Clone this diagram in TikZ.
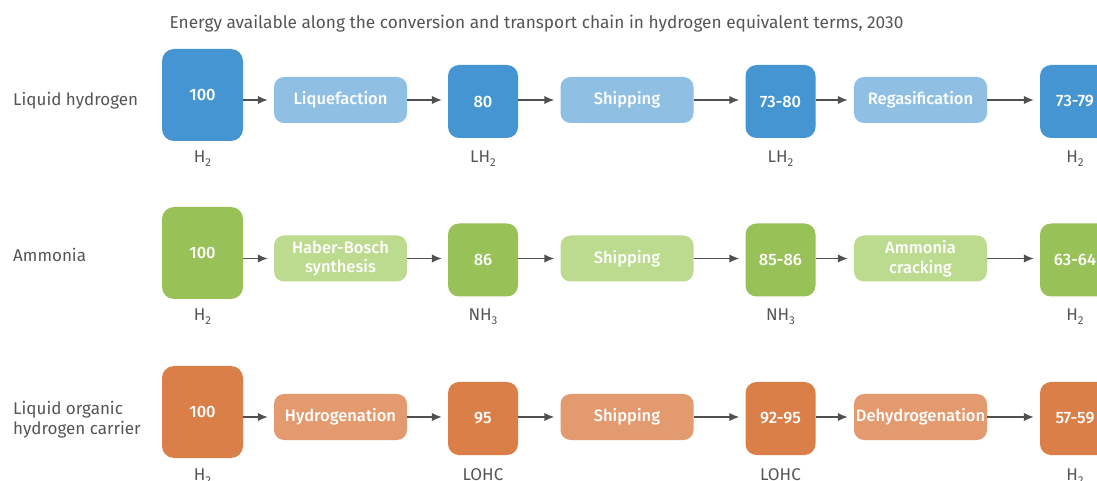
\documentclass[tikz,border=0pt]{standalone}
\usepackage{fontspec}
\setmainfont{Fira Sans}
\newfontfamily\medfont{Fira Sans Medium}
\usetikzlibrary{arrows.meta}
\definecolor{blueD}{HTML}{4495D1}
\definecolor{blueL}{HTML}{8FC0E4}
\definecolor{greenD}{HTML}{98C157}
\definecolor{greenL}{HTML}{BCDB8F}
\definecolor{orangeD}{HTML}{DB7F48}
\definecolor{orangeL}{HTML}{E39A6E}
\definecolor{txtgray}{HTML}{555555}
\definecolor{arrgray}{HTML}{505050}
\newcommand{\lowsub}[1]{\raisebox{-4bp}{\fontsize{11.5bp}{12bp}\selectfont #1}}
\tikzset{
  boxtxt/.style={text=white, inner sep=0pt, font=\medfont\fontsize{16.5bp}{19.5bp}\selectfont},
  bigbox/.style={boxtxt, rounded corners=12bp, minimum width=81bp, minimum height=92bp},
  midbox/.style={boxtxt, rounded corners=11bp, minimum width=70bp, minimum height=73bp},
  procbox/.style={boxtxt, rounded corners=10bp, minimum width=133bp, minimum height=46bp, align=center},
  sublabel/.style={text=txtgray, inner sep=0pt, anchor=base, font=\fontsize{17bp}{20bp}\selectfont},
  rowlabel/.style={text=txtgray, inner sep=0pt, align=left, font=\fontsize{17bp}{19.5bp}\selectfont},
  arr/.style={draw=arrgray, line width=1.5bp, -{Latex[length=10bp,width=8.5bp]}, shorten >=6bp}
}
\begin{document}
\begin{tikzpicture}[x=1bp,y=-1bp]
\clip (0,0) rectangle (1097,481);
\fill[white] (0,0) rectangle (1097,481);
\node[text=txtgray, inner sep=0pt, anchor=base, font=\fontsize{17.25bp}{20bp}\selectfont] (title) at (536.5,29) {Energy available along the conversion and transport chain in hydrogen equivalent terms, 2030};

% Row 1: Liquid hydrogen
\node[rowlabel, anchor=base west] (r1) at (13,106) {Liquid hydrogen};
\node[bigbox, fill=blueD] (a0) at (202.5,95) {100};
\node[procbox, fill=blueL] (a1) at (340.5,100) {Liquefaction};
\node[midbox, fill=blueD] (a2) at (483,101.5) {80};
\node[procbox, fill=blueL] (a3) at (627,100) {Shipping};
\node[midbox, fill=blueD] (a4) at (780.5,101.5) {73-80};
\node[procbox, fill=blueL] (a5) at (920.5,100) {Regasification};
\node[midbox, fill=blueD] (a6) at (1075,101.5) {73-79};
\node[sublabel] (la0) at (202.5,162.5) {H\lowsub{2}};
\node[sublabel] (la2) at (483,162.5) {LH\lowsub{2}};
\node[sublabel] (la4) at (780.5,162.5) {LH\lowsub{2}};
\node[sublabel] (la6) at (1075,162.5) {H\lowsub{2}};
\draw[arr] (a0.east |- a1.west) -- (a1.west);
\draw[arr] (a1.east) -- (a1.east -| a2.west);
\draw[arr] (a2.east |- a3.west) -- (a3.west);
\draw[arr] (a3.east) -- (a3.east -| a4.west);
\draw[arr] (a4.east |- a5.west) -- (a5.west);
\draw[arr] (a5.east) -- (a5.east -| a6.west);

% Row 2: Ammonia
\node[rowlabel, anchor=base west] (r2) at (13,262) {Ammonia};
\node[bigbox, fill=greenD] (b0) at (202.5,253) {100};
\node[procbox, fill=greenL] (b1) at (340.5,258.5) {Haber-Bosch\\synthesis};
\node[midbox, fill=greenD] (b2) at (483,260) {86};
\node[procbox, fill=greenL] (b3) at (627,258.5) {Shipping};
\node[midbox, fill=greenD] (b4) at (780.5,260) {85-86};
\node[procbox, fill=greenL] (b5) at (920.5,258.5) {Ammonia\\cracking};
\node[midbox, fill=greenD] (b6) at (1075,260) {63-64};
\node[sublabel] (lb0) at (202.5,321) {H\lowsub{2}};
\node[sublabel] (lb2) at (483,321) {NH\lowsub{3}};
\node[sublabel] (lb4) at (780.5,321) {NH\lowsub{3}};
\node[sublabel] (lb6) at (1075,321) {H\lowsub{2}};
\draw[arr] (b0.east |- b1.west) -- (b1.west);
\draw[arr] (b1.east) -- (b1.east -| b2.west);
\draw[arr] (b2.east |- b3.west) -- (b3.west);
\draw[arr] (b3.east) -- (b3.east -| b4.west);
\draw[arr] (b4.east |- b5.west) -- (b5.west);
\draw[arr] (b5.east) -- (b5.east -| b6.west);

% Row 3: LOHC
\node[rowlabel, anchor=west] (r3) at (13,419.5) {Liquid organic\\hydrogen carrier};
\node[bigbox, fill=orangeD] (c0) at (202.5,412) {100};
\node[procbox, fill=orangeL] (c1) at (340.5,417) {Hydrogenation};
\node[midbox, fill=orangeD] (c2) at (483,418.5) {95};
\node[procbox, fill=orangeL] (c3) at (627,417) {Shipping};
\node[midbox, fill=orangeD] (c4) at (780.5,418.5) {92-95};
\node[procbox, fill=orangeL] (c5) at (920.5,417) {Dehydrogenation};
\node[midbox, fill=orangeD] (c6) at (1075,418.5) {57-59};
\node[sublabel] (lc0) at (202.5,480) {H\lowsub{2}};
\node[sublabel] (lc2) at (483,480) {LOHC};
\node[sublabel] (lc4) at (780.5,480) {LOHC};
\node[sublabel] (lc6) at (1075,480) {H\lowsub{2}};
\draw[arr] (c0.east |- c1.west) -- (c1.west);
\draw[arr] (c1.east) -- (c1.east -| c2.west);
\draw[arr] (c2.east |- c3.west) -- (c3.west);
\draw[arr] (c3.east) -- (c3.east -| c4.west);
\draw[arr] (c4.east |- c5.west) -- (c5.west);
\draw[arr] (c5.east) -- (c5.east -| c6.west);
\end{tikzpicture}
\end{document}
